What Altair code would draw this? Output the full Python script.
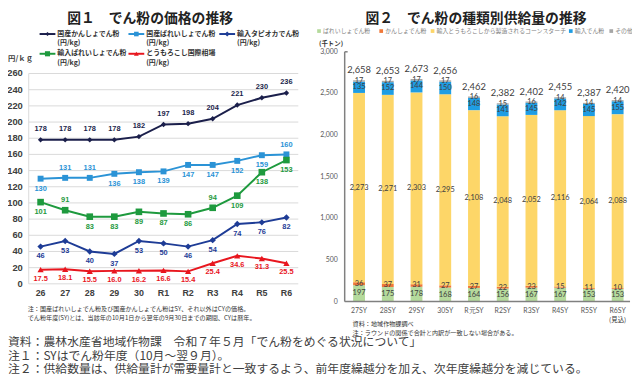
import altair as alt
import pandas as pd

# ---------------- data : figure 1 (prices, yen/kg) ----------------
YEARS1 = ["26", "27", "28", "29", "30", "R1", "R2", "R3", "R4", "R5", "R6"]
KANSHO_DOM = [178, 178, 178, 178, 182, 197, 198, 204, 221, 230, 236]
BAREI_DOM = [130, 131, 131, 136, 138, 139, 147, 147, 152, 159, 160]
TAPIOCA_IMP = [46, 53, 40, 37, 53, 50, 46, 54, 74, 76, 82]
BAREI_IMP = [101, 91, 83, 83, 89, 87, 86, 94, 109, 138, 153]
CORN_INTL = [17.5, 18.1, 15.5, 16.0, 16.2, 16.6, 15.4, 25.4, 34.6, 31.3, 25.5]
SERIES1_NAMES = ["国産かんしょでん粉", "国産ばれいしょでん粉", "輸入タピオカでん粉",
                 "輸入ばれいしょでん粉", "とうもろこし国際相場"]
Y1_TICKS = [0, 20, 40, 60, 80, 100, 120, 140, 160, 180, 200, 220, 240, 260]

# label side (a = above point, b = below point)
SIDE_KANSHO = ["a"] * 11
SIDE_BAREI_DOM = ["b", "a", "a", "b", "b", "b", "b", "b", "b", "b", "a"]
SIDE_TAPIOCA = ["b"] * 11
SIDE_BAREI_IMP = ["b", "a", "b", "b", "b", "b", "b", "a", "b", "b", "b"]
SIDE_CORN = ["b"] * 11

# ---------------- data : figure 2 (supply, 1000 t) ----------------
YEARS2 = ["27SY", "28SY", "29SY", "30SY", "R元SY", "R2SY", "R3SY", "R4SY", "R5SY", "R6SY"]
SUP_BAREI = [197, 175, 178, 168, 164, 156, 167, 167, 153, 153]
SUP_KANSHO = [36, 37, 31, 27, 27, 22, 23, 15, 11, 10]
SUP_CORNSTARCH = [2273, 2271, 2303, 2295, 2108, 2048, 2052, 2116, 2064, 2088]
SUP_IMPORT = [135, 152, 144, 150, 148, 141, 145, 142, 145, 155]
SUP_OTHER = [17, 17, 17, 17, 16, 15, 16, 14, 14, 14]
SUP_TOTAL = [2658, 2653, 2673, 2656, 2462, 2382, 2402, 2455, 2387, 2420]
SEG_NAMES = ["ばれいしょでん粉", "かんしょでん粉", "輸入とうもろこしから製造されるコーンスターチ",
             "輸入でん粉", "その他"]
Y2_TICKS = [0, 500, 1000, 1500, 2000, 2500, 3000]

# ---------------- styles ----------------
O = 8
def px(v):
    return v - O

JP = "Noto Sans CJK JP"
NUM = "Liberation Sans"
NUM2 = "Lato"

C_KANSHO = "#1b1f4b"
C_BAREI_DOM = "#2b93d6"
C_TAPIOCA = "#1e3c96"
C_BAREI_IMP = "#1e9a3e"
C_CORN = "#e8161e"
SEG_COLORS = ["#b5da9c", "#f07838", "#fdd668", "#1f9de3", "#a6a6a6"]

X1 = alt.Scale(type="point", domain=YEARS1, range=[px(41), px(290)], padding=0)
Y1 = alt.Scale(domain=[0, 260], range=[px(285), px(72)], nice=False, zero=False)
X2 = alt.Scale(type="band", domain=YEARS2, range=[px(349), px(640)], paddingInner=0, paddingOuter=0)
Y2 = alt.Scale(domain=[0, 3000], range=[px(303), px(50)], nice=False, zero=False)

layers = []


def txt(text, x, y, size, color="#333333", weight="normal", align="left",
        baseline="middle", font=JP, line_height=None):
    kw = dict(align=align, baseline=baseline, fontSize=size, font=font,
              fontWeight=weight, color=color)
    if "\n" in text:
        kw["lineBreak"] = "\n"
        if line_height:
            kw["lineHeight"] = line_height
    return alt.Chart(pd.DataFrame({"t": [text]})).mark_text(**kw).encode(
        x=alt.value(px(x)), y=alt.value(px(y)), text="t:N")


# ================= FIGURE 1 =================
layers.append(txt("図１　でん粉の価格の推移", 152, 9.5, 14, color="#222222", weight="bold",
                  align="center", baseline="top"))

grid1 = pd.DataFrame({"v": Y1_TICKS})
layers.append(alt.Chart(grid1).mark_rule(color="#d9d9d9", strokeWidth=1).encode(
    y=alt.Y("v:Q", scale=Y1, axis=None), x=alt.value(px(29)), x2=alt.value(px(302))))
layers.append(alt.Chart(pd.DataFrame({"v": [0, 260]})).mark_rule(color="#d9d9d9", strokeWidth=1).encode(
    y=alt.Y("min(v):Q", scale=Y1, axis=None), y2="max(v):Q", x=alt.value(px(29))))
layers.append(alt.Chart(grid1).mark_text(align="right", baseline="middle", fontSize=9.5,
                                         font=NUM, fontWeight="bold", color="#404040").encode(
    y=alt.Y("v:Q", scale=Y1, axis=None), x=alt.value(px(23)), text="v:Q"))
layers.append(alt.Chart(pd.DataFrame({"year": YEARS1})).mark_text(
    align="center", baseline="middle", fontSize=9, font=NUM, fontWeight="bold",
    color="#404040").encode(x=alt.X("year:N", scale=X1, axis=None),
                            y=alt.value(px(294)), text="year:N"))
layers.append(txt("円/ｋｇ", 8, 57, 7.5, weight="bold", color="#404040"))

series1 = [
    (KANSHO_DOM, SIDE_KANSHO, C_KANSHO, "diamond", 30, -11, "d"),
    (BAREI_DOM, SIDE_BAREI_DOM, C_BAREI_DOM, "square", 36, -10, "d"),
    (TAPIOCA_IMP, SIDE_TAPIOCA, C_TAPIOCA, "diamond", 42, -10, "d"),
    (BAREI_IMP, SIDE_BAREI_IMP, C_BAREI_IMP, "square", 45, -10, "d"),
    (CORN_INTL, SIDE_CORN, C_CORN, "triangle-up", 40, -10, ".1f"),
]
for vals, sides, color, shape, size, up, fmt in series1:
    df = pd.DataFrame({"year": YEARS1, "v": vals, "side": sides})
    base = alt.Chart(df).encode(x=alt.X("year:N", scale=X1, axis=None),
                                y=alt.Y("v:Q", scale=Y1, axis=None))
    layers.append(base.mark_line(color=color, strokeWidth=2))
    layers.append(base.mark_point(shape=shape, filled=True, color=color, size=size, opacity=1))
    for side, dy in (("a", up), ("b", 10 if color != C_CORN else 9)):
        layers.append(base.transform_filter(alt.datum.side == side).mark_text(
            fontSize=7.5, font=NUM, fontWeight="bold", color=color, dy=dy,
            align="center", baseline="middle").encode(text=alt.Text("v:Q", format=fmt)))

# legend figure 1
leg_pos = [(40, 32), (130, 32), (222, 32), (40, 52), (130, 52)]
for (lx, ly), name, (_, _, color, shape, size, _, _) in zip(leg_pos, SERIES1_NAMES, series1):
    layers.append(alt.Chart(pd.DataFrame({"a": [0]})).mark_rule(color=color, strokeWidth=2).encode(
        x=alt.value(px(lx)), x2=alt.value(px(lx + 16)), y=alt.value(px(ly))))
    layers.append(alt.Chart(pd.DataFrame({"a": [0]})).mark_point(
        shape=shape, filled=True, color=color, size=size * 0.6, opacity=1).encode(
        x=alt.value(px(lx + 8)), y=alt.value(px(ly))))
    layers.append(txt(name + "\n(円/kg)", lx + 18, ly - 4.5, 7, weight="bold",
                      color="#333333", baseline="top", line_height=9.5))

layers.append(txt("注：国産ばれいしょでん粉及び国産かんしょでん粉はSY、それ以外はCYの価格。",
                  28, 311, 6.2, color="#333333"))
layers.append(txt("でん粉年度(SY)とは、当該年の10月1日から翌年の9月30日までの期間、CYは暦年。",
                  28, 320, 6.2, color="#333333"))

# ================= FIGURE 2 =================
layers.append(txt("図２　でん粉の種類別供給量の推移", 482, 9.5, 14, color="#222222", weight="bold",
                  align="center", baseline="top"))

rows = []
for i, yr in enumerate(YEARS2):
    cum = 0
    for name, seq in zip(SEG_NAMES, [SUP_BAREI, SUP_KANSHO, SUP_CORNSTARCH, SUP_IMPORT, SUP_OTHER]):
        v = seq[i]
        rows.append({"year": yr, "seg": name, "val": v, "start": cum, "end": cum + v,
                     "mid": cum + v / 2})
        cum += v
stack = pd.DataFrame(rows)

layers.append(alt.Chart(stack).mark_bar(size=12).encode(
    x=alt.X("year:N", scale=X2, axis=None),
    y=alt.Y("start:Q", scale=Y2, axis=None), y2="end:Q",
    color=alt.Color("seg:N", scale=alt.Scale(domain=SEG_NAMES, range=SEG_COLORS), legend=None)))
layers.append(alt.Chart(stack).mark_text(fontSize=7.5, font=NUM2, color="#404040",
                                         align="center", baseline="middle").encode(
    x=alt.X("year:N", scale=X2, axis=None),
    y=alt.Y("mid:Q", scale=Y2, axis=None), text=alt.Text("val:Q", format=",d")))
tot = pd.DataFrame({"year": YEARS2, "total": SUP_TOTAL})
layers.append(alt.Chart(tot).mark_text(fontSize=9.5, font=NUM2, color="#404040", dy=-10,
                                       align="center", baseline="middle").encode(
    x=alt.X("year:N", scale=X2, axis=None),
    y=alt.Y("total:Q", scale=Y2, axis=None), text=alt.Text("total:Q", format=",d")))

# axes figure 2
grid2 = pd.DataFrame({"v": Y2_TICKS})
layers.append(alt.Chart(grid2).mark_text(align="right", baseline="middle", fontSize=7,
                                         font=NUM2, color="#595959").encode(
    y=alt.Y("v:Q", scale=Y2, axis=None), x=alt.value(px(342)), text=alt.Text("v:Q", format=",d")))
layers.append(alt.Chart(pd.DataFrame({"v": [0, 3000]})).mark_rule(color="#808080", strokeWidth=1.5).encode(
    y=alt.Y("min(v):Q", scale=Y2, axis=None), y2="max(v):Q", x=alt.value(px(349))))
layers.append(alt.Chart(pd.DataFrame({"v": [0]})).mark_rule(color="#808080", strokeWidth=1.5).encode(
    y=alt.Y("v:Q", scale=Y2, axis=None), x=alt.value(px(349)), x2=alt.value(px(638))))
layers.append(alt.Chart(pd.DataFrame({"v": [3000]})).mark_rule(color="#808080", strokeWidth=1.5).encode(
    y=alt.Y("v:Q", scale=Y2, axis=None), x=alt.value(px(349)), x2=alt.value(px(352))))
layers.append(alt.Chart(pd.DataFrame({"year": YEARS2})).mark_text(
    align="center", baseline="middle", fontSize=7, font=NUM2, color="#595959").encode(
    x=alt.X("year:N", scale=X2, axis=None), y=alt.value(px(313)), text="year:N"))
layers.append(alt.Chart(pd.DataFrame({"year": [YEARS2[-1]], "t": ["(見込)"]})).mark_text(
    align="center", baseline="middle", fontSize=6.5, font=JP, color="#333333").encode(
    x=alt.X("year:N", scale=X2, axis=None), y=alt.value(px(322)), text="t:N"))
layers.append(txt("(千トン)", 323, 42, 6.5, weight="bold", color="#333333"))

# legend figure 2
leg2 = [(323, 327), (386, 390), (438, 442), (578, 582), (619, 623)]
for (sx, tx), name, color in zip(leg2, SEG_NAMES, SEG_COLORS):
    layers.append(alt.Chart(pd.DataFrame({"a": [0]})).mark_square(color=color, size=14, opacity=1).encode(
        x=alt.value(px(sx)), y=alt.value(px(29))))
    layers.append(txt(name, tx, 29, 6, color="#7f7f7f"))

layers.append(txt("資料：地域作物課調べ", 357, 326, 6.2, color="#333333"))
layers.append(txt("注：ラウンドの関係で合計と内訳が一致しない場合がある。", 357, 335, 6.2, color="#333333"))

# ================= bottom notes =================
layers.append(txt("資料：農林水産省地域作物課　令和７年５月「でん粉をめぐる状況について」", 8, 344, 12,
                  color="#404040"))
layers.append(txt("注１：SYはでん粉年度（10月～翌９月）。", 8, 358, 12, color="#404040"))
layers.append(txt("注２：供給数量は、供給量計が需要量計と一致するよう、前年度繰越分を加え、次年度繰越分を減じている。",
                  8, 371, 12, color="#404040"))

chart = alt.layer(*layers).properties(
    width=632, height=368, padding=0,
    autosize=alt.AutoSizeParams(type="none"),
).resolve_scale(x="independent", y="independent", color="independent").configure_view(stroke=None)

chart.save("out.html", embed_options={"renderer": "svg", "actions": False})
